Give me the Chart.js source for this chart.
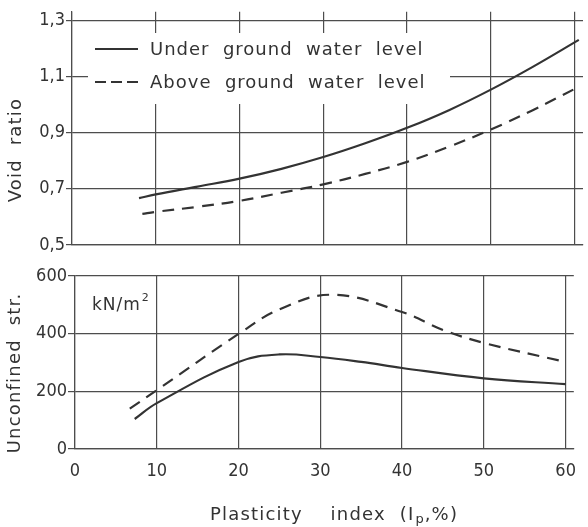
<!DOCTYPE html>
<html>
<head>
<meta charset="utf-8">
<script src="https://cdn.jsdelivr.net/npm/chart.js@4"></script>
<style>
  html, body { margin: 0; padding: 0; background: #fff; }
  #wrap { position: relative; width: 588px; height: 527px; }
  #voidChart { position: absolute; left: 0; top: 0; }
  #strChart { position: absolute; left: 0; top: 260px; }
</style>
</head>
<body>
<div id="wrap">
  <canvas id="voidChart" width="588" height="260"></canvas>
  <canvas id="strChart" width="588" height="267"></canvas>
</div>
<script>
// ── data ──
const ipTicks = [0, 10, 20, 30, 40, 50, 60];
const ipTickLabels = ['0', '10', '20', '30', '40', '50', '60'];

const voidTicks = [0.5, 0.7, 0.9, 1.1, 1.3];
const voidTickLabels = ['0,5', '0,7', '0,9', '1,1', '1,3'];
const strTicks = [0, 200, 400, 600];
const strTickLabels = ['0', '200', '400', '600'];

// void ratio, under ground water level (solid)
const voidUnderIp = [8, 10, 15, 20, 25, 30, 35, 40, 45, 50, 55, 60.5];
const voidUnder   = [0.667, 0.68, 0.708, 0.736, 0.771, 0.813, 0.862, 0.917, 0.98, 1.053, 1.134, 1.23];
// void ratio, above ground water level (dashed)
const voidAboveIp = [8.4, 10, 15, 20, 25, 30, 35, 40, 45, 50, 55, 60.5];
const voidAbove   = [0.611, 0.618, 0.636, 0.657, 0.686, 0.716, 0.753, 0.796, 0.85, 0.911, 0.98, 1.063];

// unconfined strength kN/m2, under (solid)
const strUnderIp = [7.3, 10, 20, 25, 30, 35, 40, 50, 60];
const strUnder   = [104, 159, 302, 328, 319, 302, 281, 245, 225];
// unconfined strength, above (dashed)
const strAboveIp = [6.7, 10, 20, 25, 31.5, 40, 45, 50, 60];
const strAbove   = [140, 204, 399, 484, 535, 475, 413, 368, 302];

const legendLabels = ['Under  ground  water  level', 'Above  ground  water  level'];

// ── styling ──
const INK = '#333333';
const GRID = '#4d4d4d';
const NUM_FONT = '"Liberation Sans Narrow", "DejaVu Sans Condensed", "Liberation Sans", sans-serif';
const TXT_FONT = '"DejaVu Sans", "Liberation Sans", sans-serif';
const DASH = [12, 8];

function pts(xs, ys) {
    return xs.map((x, i) => ({ x: x, y: ys[i] }));
}

function lineSet(label, xs, ys, dashed) {
    return {
        label: label,
        data: pts(xs, ys),
        borderColor: INK,
        borderWidth: 2.2,
        borderDash: dashed ? DASH : [],
        pointRadius: 0,
        tension: 0.4,
        fill: false
    };
}

function drawText(ctx, s, x, y, size, opts) {
    opts = opts || {};
    ctx.save();
    ctx.font = size + 'px ' + (opts.family || TXT_FONT);
    ctx.fillStyle = INK;
    ctx.textAlign = opts.align || 'left';
    ctx.textBaseline = 'middle';
    if ('letterSpacing' in ctx) ctx.letterSpacing = (opts.spacing || 0) + 'px';
    if (opts.rotate) {
        ctx.translate(x, y);
        ctx.rotate(-Math.PI / 2);
        ctx.fillText(s, 0, 0);
    } else {
        ctx.fillText(s, x, y);
    }
    const w = ctx.measureText(s).width;
    ctx.restore();
    return w;
}

// ── top chart: void ratio ──
const voidDecor = {
    id: 'voidDecor',
    beforeDatasetsDraw(chart) {
        // legend box blanks the grid behind it
        const ctx = chart.ctx;
        ctx.save();
        ctx.fillStyle = '#fff';
        ctx.fillRect(88, 33, 362, 71);
        ctx.restore();
    },
    afterDraw(chart) {
        const ctx = chart.ctx;
        ctx.save();
        ctx.strokeStyle = INK;
        ctx.lineWidth = 2.2;
        ctx.beginPath();
        ctx.moveTo(95, 49); ctx.lineTo(138, 49);
        ctx.stroke();
        ctx.setLineDash([11, 5]);
        ctx.beginPath();
        ctx.moveTo(95, 82); ctx.lineTo(139, 82);
        ctx.stroke();
        ctx.restore();

        drawText(ctx, legendLabels[0], 150, 50, 18, { spacing: 1 });
        drawText(ctx, legendLabels[1], 150, 83, 18, { spacing: 1 });
        drawText(ctx, 'Void  ratio', 16, 150, 18, { rotate: true, align: 'center', spacing: 1.2 });
    }
};

new Chart(document.getElementById('voidChart'), {
    type: 'line',
    data: {
        datasets: [
            lineSet(legendLabels[0], voidUnderIp, voidUnder, false),
            lineSet(legendLabels[1], voidAboveIp, voidAbove, true)
        ]
    },
    options: {
        responsive: false,
        animation: false,
        layout: { padding: { left: 0, right: 5, top: 6, bottom: 0 } },
        plugins: { legend: { display: false }, tooltip: { enabled: false } },
        scales: {
            x: {
                type: 'linear',
                min: 0,
                max: 61,
                afterBuildTicks: s => { s.ticks = ipTicks.map(v => ({ value: v })); },
                afterFit: s => { s.height = 15; },
                ticks: { display: false },
                grid: { color: GRID, lineWidth: 1.2, drawTicks: false },
                border: { color: GRID, width: 1.2 }
            },
            y: {
                min: 0.5,
                max: 1.33,
                afterBuildTicks: s => { s.ticks = voidTicks.map(v => ({ value: v })); },
                afterFit: s => { s.width = 72; },
                ticks: {
                    color: INK,
                    padding: 1,
                    font: { family: NUM_FONT, size: 18 },
                    callback: v => voidTickLabels[voidTicks.indexOf(v)]
                },
                grid: { color: GRID, lineWidth: 1.2, tickLength: 6 },
                border: { color: GRID, width: 1.2 }
            }
        }
    },
    plugins: [voidDecor]
});

// ── bottom chart: unconfined strength ──
const strDecor = {
    id: 'strDecor',
    afterDraw(chart) {
        const ctx = chart.ctx;
        // kN/m2
        let w = drawText(ctx, 'kN/m', 92, 46, 17, { spacing: 1 });
        drawText(ctx, '2', 92 + w + 1, 38, 11);
        drawText(ctx, 'Unconfined  str.', 15, 113, 18, { rotate: true, align: 'center', spacing: 1.2 });

        // x title with subscript p
        let x = 210;
        x += drawText(ctx, 'Plasticity    index  (I', x, 255, 18, { spacing: 1.2 });
        x += drawText(ctx, 'p', x + 1, 260, 13) + 2;
        drawText(ctx, ',%)', x, 255, 18, { spacing: 1.2 });
    }
};

new Chart(document.getElementById('strChart'), {
    type: 'line',
    data: {
        datasets: [
            lineSet(legendLabels[0], strUnderIp, strUnder, false),
            lineSet(legendLabels[1], strAboveIp, strAbove, true)
        ]
    },
    options: {
        responsive: false,
        animation: false,
        layout: { padding: { left: 0, right: 4, top: 16, bottom: 0 } },
        plugins: { legend: { display: false }, tooltip: { enabled: false } },
        scales: {
            x: {
                type: 'linear',
                min: 0,
                max: 61,
                afterBuildTicks: s => { s.ticks = ipTicks.map(v => ({ value: v })); },
                afterFit: s => { s.height = 78; },
                ticks: {
                    color: INK,
                    padding: 12,
                    maxRotation: 0,
                    font: { family: NUM_FONT, size: 18 },
                    callback: v => ipTickLabels[ipTicks.indexOf(v)]
                },
                grid: { color: GRID, lineWidth: 1.2, drawTicks: false },
                border: { color: GRID, width: 1.2 }
            },
            y: {
                min: 0,
                max: 600,
                afterBuildTicks: s => { s.ticks = strTicks.map(v => ({ value: v })); },
                afterFit: s => { s.width = 75; },
                ticks: {
                    color: INK,
                    padding: 1,
                    font: { family: NUM_FONT, size: 18 },
                    callback: v => strTickLabels[strTicks.indexOf(v)]
                },
                grid: { color: GRID, lineWidth: 1.2, tickLength: 7 },
                border: { color: GRID, width: 1.2 }
            }
        }
    },
    plugins: [strDecor]
});
</script>
</body>
</html>
